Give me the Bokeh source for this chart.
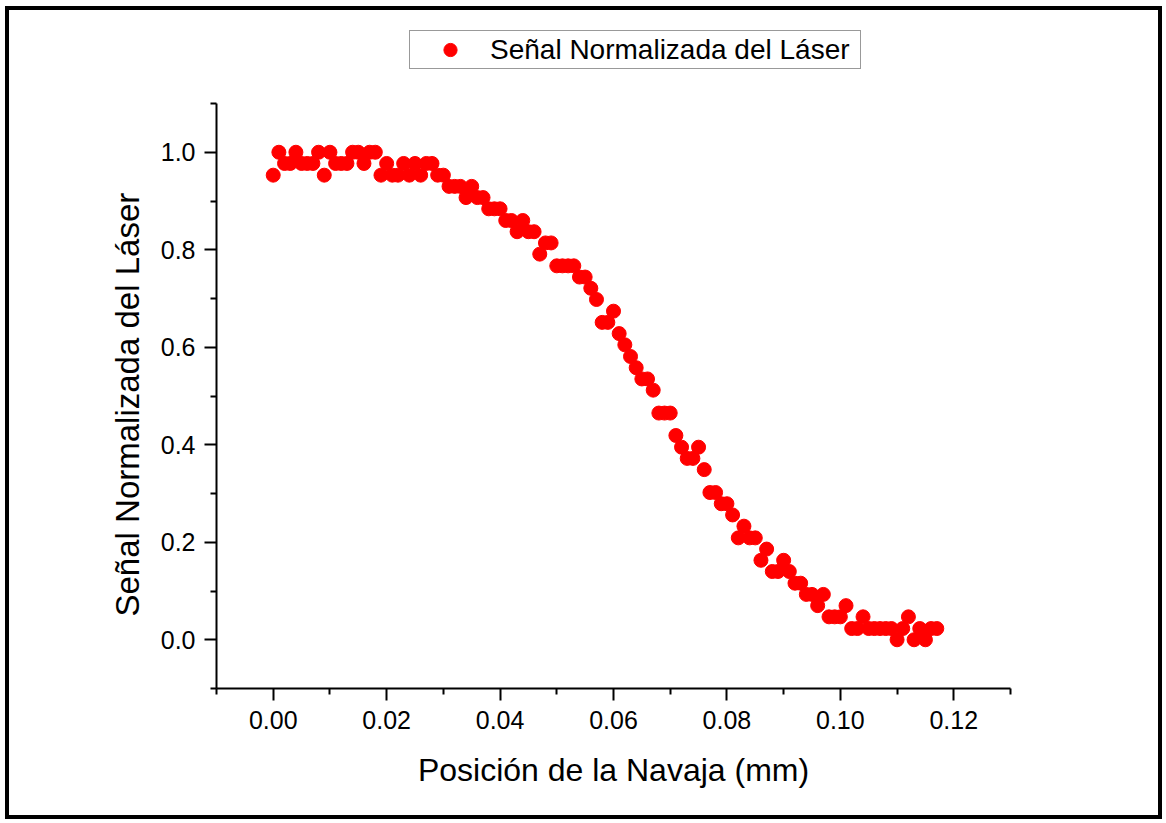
from bokeh.plotting import figure
from bokeh.models import (Range1d, FixedTicker, PrintfTickFormatter, Legend,
                          LegendItem, InlineStyleSheet, Title)
from bokeh.embed import file_html
from bokeh.resources import INLINE

# ---- data ----
posicion_mm = [
    0.000, 0.001, 0.002, 0.003, 0.004, 0.005, 0.006, 0.007, 0.008, 0.009,
    0.010, 0.011, 0.012, 0.013, 0.014, 0.015, 0.016, 0.017, 0.018, 0.019,
    0.020, 0.021, 0.022, 0.023, 0.024, 0.025, 0.026, 0.027, 0.028, 0.029,
    0.030, 0.031, 0.032, 0.033, 0.034, 0.035, 0.036, 0.037, 0.038, 0.039,
    0.040, 0.041, 0.042, 0.043, 0.044, 0.045, 0.046, 0.047, 0.048, 0.049,
    0.050, 0.051, 0.052, 0.053, 0.054, 0.055, 0.056, 0.057, 0.058, 0.059,
    0.060, 0.061, 0.062, 0.063, 0.064, 0.065, 0.066, 0.067, 0.068, 0.069,
    0.070, 0.071, 0.072, 0.073, 0.074, 0.075, 0.076, 0.077, 0.078, 0.079,
    0.080, 0.081, 0.082, 0.083, 0.084, 0.085, 0.086, 0.087, 0.088, 0.089,
    0.090, 0.091, 0.092, 0.093, 0.094, 0.095, 0.096, 0.097, 0.098, 0.099,
    0.100, 0.101, 0.102, 0.103, 0.104, 0.105, 0.106, 0.107, 0.108, 0.109,
    0.110, 0.111, 0.112, 0.113, 0.114, 0.115, 0.116, 0.117,
]
senal_normalizada = [
    0.953, 1.000, 0.977, 0.977, 1.000, 0.977, 0.977, 0.977, 1.000, 0.953,
    1.000, 0.977, 0.977, 0.977, 1.000, 1.000, 0.977, 1.000, 1.000, 0.953,
    0.977, 0.953, 0.953, 0.977, 0.953, 0.977, 0.953, 0.977, 0.977, 0.953,
    0.953, 0.930, 0.930, 0.930, 0.907, 0.930, 0.907, 0.907, 0.884, 0.884,
    0.884, 0.860, 0.860, 0.837, 0.860, 0.837, 0.837, 0.791, 0.814, 0.814,
    0.767, 0.767, 0.767, 0.767, 0.744, 0.744, 0.721, 0.698, 0.651, 0.651,
    0.674, 0.628, 0.605, 0.581, 0.558, 0.535, 0.535, 0.512, 0.465, 0.465,
    0.465, 0.419, 0.395, 0.372, 0.372, 0.395, 0.349, 0.302, 0.302, 0.279,
    0.279, 0.256, 0.209, 0.233, 0.209, 0.209, 0.163, 0.186, 0.140, 0.140,
    0.163, 0.140, 0.116, 0.116, 0.093, 0.093, 0.070, 0.093, 0.047, 0.047,
    0.047, 0.070, 0.023, 0.023, 0.047, 0.023, 0.023, 0.023, 0.023, 0.023,
    0.000, 0.023, 0.047, 0.000, 0.023, 0.000, 0.023, 0.023,
]
x_major_ticks = [0.00, 0.02, 0.04, 0.06, 0.08, 0.10, 0.12]
x_minor_ticks = [-0.01, 0.01, 0.03, 0.05, 0.07, 0.09, 0.11, 0.13]
y_major_ticks = [0.0, 0.2, 0.4, 0.6, 0.8, 1.0]
y_minor_ticks = [-0.1, 0.1, 0.3, 0.5, 0.7, 0.9, 1.1]
x_axis_span = (-0.01, 0.13)
y_axis_span = (-0.1, 1.1)
x_title = "Posición de la Navaja (mm)"
y_title = "Señal Normalizada del Láser"
legend_label = "Señal Normalizada del Láser"

FONT = "Liberation Sans"

# layout geometry (pixels)
FRAME_TOP = 30        # frame reaches up to hold the legend box
AXIS_TOP = 103        # where the y axis (1.1) ends
FRAME_BOTTOM = 688
px_per_unit = (FRAME_BOTTOM - AXIS_TOP) / (y_axis_span[1] - y_axis_span[0])
y_end = y_axis_span[1] + (AXIS_TOP - FRAME_TOP) / px_per_unit

p = figure(
    width=1166, height=823,
    output_backend="svg", toolbar_location=None,
    x_range=Range1d(*x_axis_span), y_range=Range1d(y_axis_span[0], y_end),
    min_border_left=216, min_border_right=156,
    min_border_top=FRAME_TOP, min_border_bottom=823 - FRAME_BOTTOM,
    x_axis_label=x_title,
)
p.grid.visible = False
p.outline_line_color = None
p.background_fill_color = "white"
p.border_fill_color = "white"
# black frame around the whole picture, drawn above the canvas
p.stylesheets = [InlineStyleSheet(css="""
:host { position: relative; }
:host::after {
  content: '';
  position: absolute;
  left: 5px; top: 6px;
  width: 1157px; height: 813px;
  border: 4px solid black;
  box-sizing: border-box;
  pointer-events: none;
  z-index: 100;
}
""")]

p.xaxis[0].ticker = FixedTicker(ticks=x_major_ticks, minor_ticks=x_minor_ticks)
p.yaxis[0].ticker = FixedTicker(ticks=y_major_ticks, minor_ticks=y_minor_ticks)
p.xaxis[0].formatter = PrintfTickFormatter(format="%.2f")
p.yaxis[0].formatter = PrintfTickFormatter(format="%.1f")
p.yaxis[0].bounds = y_axis_span

for ax in (p.xaxis[0], p.yaxis[0]):
    ax.axis_line_width = 2
    ax.axis_line_color = "black"
    ax.major_tick_line_width = 2
    ax.minor_tick_line_width = 2
    ax.major_tick_line_color = "black"
    ax.minor_tick_line_color = "black"
    ax.major_tick_in = 0
    ax.major_tick_out = 12
    ax.minor_tick_in = 0
    ax.minor_tick_out = 6
    ax.major_label_text_font = FONT
    ax.major_label_text_font_size = "25px"
    ax.major_label_text_color = "black"
    ax.axis_label_text_font = FONT
    ax.axis_label_text_font_style = "normal"
    ax.axis_label_text_color = "black"

p.xaxis[0].axis_label_text_font_size = "32px"
p.xaxis[0].major_label_standoff = 10
p.xaxis[0].axis_label_standoff = 20
p.yaxis[0].major_label_standoff = 9

# y axis title, placed in the left panel beside the axis
p.add_layout(Title(text=y_title, align="left", offset=72, vertical_align="bottom",
                   standoff=24, text_font=FONT, text_font_size="33px",
                   text_font_style="normal", text_color="black"), "left")

r = p.scatter(posicion_mm, senal_normalizada, size=14, marker="circle",
              fill_color="#ff0000", line_color="#ff0000")

legend = Legend(
    items=[LegendItem(label=legend_label, renderers=[r])],
    location=(193, 619),
    orientation="vertical",
    padding=2, margin=0,
    glyph_width=76, glyph_height=33, label_standoff=2,
    label_width=368,
    label_text_font=FONT, label_text_font_size="28px", label_text_color="black",
    border_line_color="#333333", border_line_width=1,
    background_fill_color="white", background_fill_alpha=1.0,
)
p.add_layout(legend)

open("out.html", "w").write(file_html(p, INLINE))
